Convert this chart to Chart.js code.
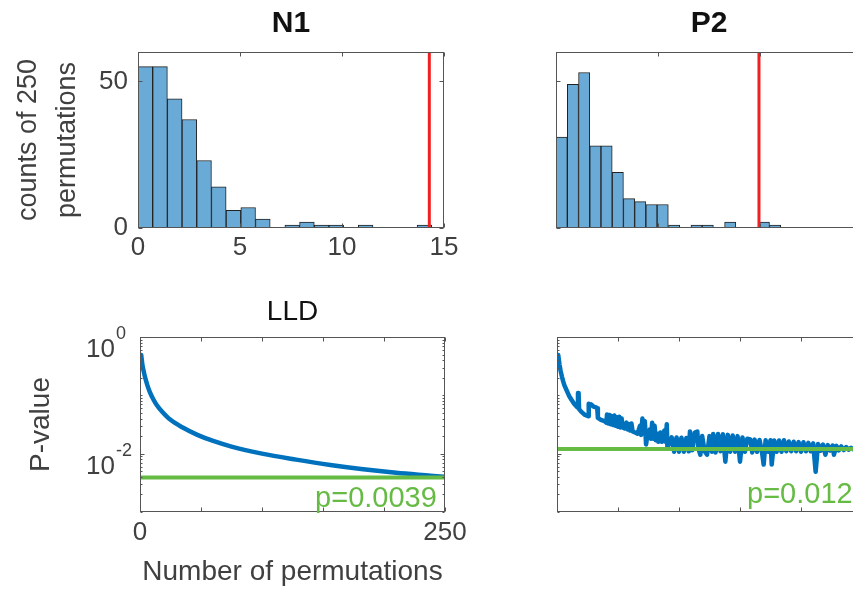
<!DOCTYPE html>
<html lang="en">
<head>
  <meta charset="UTF-8">
  <title>Permutation tests – N1 / P2</title>
  <script src="https://cdn.jsdelivr.net/npm/chart.js"></script>
  <style>
    html, body { margin: 0; padding: 0; background: #fff; overflow: hidden; }
    body { width: 853px; height: 592px; position: relative; }
    canvas { position: absolute; }
  </style>
</head>
<body>
  <canvas id="n1Hist" width="470" height="300" style="left:0;top:0"></canvas>
  <canvas id="p2Hist" width="470" height="300" style="left:418px;top:0"></canvas>
  <canvas id="n1Lld" width="475" height="307" style="left:0;top:285px"></canvas>
  <canvas id="p2Lld" width="475" height="307" style="left:417px;top:285px"></canvas>

  <script>
    // histogram bins (centres) and counts of 250 permutations
    const n1BinCenters = [0.36, 1.08, 1.80, 2.52, 3.24, 3.96, 4.68, 5.40, 6.12, 6.84,
                          7.56, 8.28, 9.00, 9.72, 10.44, 11.16, 11.88, 12.60, 13.32, 14.04];
    const n1Counts = [55, 55, 44, 37, 23, 14, 6, 7, 3, 0, 1, 2, 1, 1, 0, 1, 0, 0, 0, 1];
    const n1Observed = 14.28;

    const p2BinCenters = [0.28, 0.83, 1.38, 1.93, 2.48, 3.03, 3.58, 4.13, 4.68, 5.23,
                          5.79, 6.34, 6.89, 7.44, 7.99, 8.54, 9.09, 9.64, 10.19, 10.74];
    const p2Counts = [31, 49, 53, 28, 28, 19, 10, 9, 8, 8, 1, 0, 1, 1, 0, 2, 0, 0, 2, 1];
    const p2Observed = 9.95;

    const histXTicks = [0, 5, 10, 15];
    const histYTicks = [0, 50];

    // p-value vs number of permutations
    const n1PermN = [1, 2, 3, 4, 6, 8, 11, 14, 18, 25, 35, 47, 60, 75, 100, 128, 156, 183, 210, 238, 250];
    const n1PermP = [0.49, 0.33, 0.26, 0.21, 0.15, 0.115, 0.085, 0.067, 0.053, 0.038, 0.028, 0.021,
                     0.0165, 0.0132, 0.0100, 0.0079, 0.0064, 0.0054, 0.0047, 0.0042, 0.0040];
    const n1FinalP = 0.0039;

    // [permutations, p]
    const p2PermCurve = [
      [1, 0.49], [2, 0.34], [3, 0.26], [4, 0.21], [5, 0.175], [6, 0.15], [8, 0.12], [10, 0.097],
      [12, 0.083], [14, 0.072], [16.8, 0.062], [17.2, 0.11], [17.7, 0.11], [18.1, 0.058], [20, 0.052],
      [23, 0.046], [25.5, 0.044], [26, 0.072], [27, 0.066], [28, 0.070], [30, 0.064], [32, 0.062],
      [33, 0.060], [33.5, 0.041], [36, 0.038], [39, 0.036], [40.5, 0.034],
      [41, 0.047], [42, 0.033], [43, 0.046], [44, 0.032], [45, 0.044], [46, 0.031], [47, 0.045],
      [48, 0.030], [49, 0.042], [50, 0.029], [51, 0.043], [52, 0.028], [53, 0.040], [54, 0.028],
      [55.5, 0.027], [57, 0.034], [58, 0.026], [59, 0.032], [60, 0.025], [61, 0.033], [62, 0.024],
      [64, 0.023], [66, 0.022], [68, 0.030], [69, 0.021], [70, 0.040], [71, 0.030], [72, 0.036],
      [73, 0.0144], [74, 0.020], [75, 0.019], [76, 0.026], [77, 0.018], [78, 0.034], [79, 0.018],
      [80, 0.030], [81, 0.017], [82, 0.022], [83, 0.016], [84.7, 0.023], [86, 0.016], [88, 0.025],
      [89, 0.016], [90, 0.032], [90.5, 0.0125], [92, 0.015], [94, 0.019],
      [96, 0.0108], [98, 0.019], [100, 0.0108], [102, 0.0188], [104, 0.0108], [106, 0.0185],
      [108, 0.011], [109, 0.024], [111, 0.0115], [113, 0.023], [115, 0.024], [116, 0.012],
      [117.5, 0.0096], [119, 0.020], [121, 0.011], [123, 0.0096], [125, 0.020], [127, 0.0108],
      [128, 0.0217], [130, 0.0105], [132, 0.0217], [134, 0.011], [136, 0.0215], [138, 0.0073],
      [140, 0.021], [142, 0.0108], [144, 0.0205], [146, 0.0108], [148, 0.020], [150, 0.0073],
      [152, 0.019], [154, 0.0108], [156, 0.018], [158.5, 0.0175], [160, 0.0105], [162, 0.0174],
      [164, 0.0108], [166, 0.0172], [168, 0.0108], [169.4, 0.0065], [171, 0.017], [173, 0.0108],
      [175, 0.017], [176, 0.0065], [178, 0.0168], [180, 0.0108], [182, 0.0168], [184, 0.0108],
      [186, 0.017], [188, 0.011], [190, 0.0162], [192, 0.011], [194, 0.016], [196, 0.011],
      [198, 0.0158], [200, 0.0108], [202, 0.0157], [204, 0.011], [206, 0.0153], [208, 0.011],
      [210, 0.015], [212, 0.0049], [214, 0.0147], [216, 0.0112], [218, 0.0143], [220, 0.0096],
      [222, 0.014], [224, 0.0113], [226, 0.0138], [227, 0.0096], [229, 0.0136], [231, 0.0114],
      [233, 0.0133], [235, 0.0115], [237, 0.013], [239, 0.0117], [241, 0.0126], [243, 0.0118],
      [245, 0.0123], [247, 0.0119], [250, 0.012]
    ];
    const p2FinalP = 0.012;

    const permXTicks = [0, 50, 100, 150, 200, 250];
    const permXLabels = ['0', '', '', '', '', '250'];
    const pMajorTicks = [0.01, 1];

    const FONT = '"Liberation Sans", Arial, Helvetica, sans-serif';
    const TXT = '#404040';
    const BLUE = '#0072bd';
    const GREEN = '#66bb44';
    const RED = '#f02020';

    Chart.defaults.font.family = FONT;
    Chart.defaults.color = TXT;

    // matlab-ish box with inward ticks on all four sides, plus extra text
    const matlabAxes = {
      id: 'matlabAxes',
      afterDraw(chart, args, opts) {
        const ctx = chart.ctx;
        const a = chart.chartArea;
        const x = chart.scales.x, y = chart.scales.y;
        const L = Math.round(a.left) + 0.5, R = Math.round(a.right) - 0.5;
        const T = Math.round(a.top) + 0.5, B = Math.round(a.bottom) - 0.5;
        ctx.save();
        ctx.strokeStyle = '#555';
        ctx.lineWidth = 1;
        ctx.strokeRect(L, T, R - L, B - T);
        ctx.beginPath();
        (opts.xTicks || []).forEach(v => {
          const px = Math.round(x.getPixelForValue(v)) + 0.5;
          ctx.moveTo(px, B); ctx.lineTo(px, B - 4);
          ctx.moveTo(px, T); ctx.lineTo(px, T + 4);
        });
        (opts.yTicks || []).forEach(v => {
          const py = Math.round(y.getPixelForValue(v)) + 0.5;
          ctx.moveTo(L, py); ctx.lineTo(L + 4, py);
          ctx.moveTo(R, py); ctx.lineTo(R - 4, py);
        });
        if (opts.logMinor) {
          for (let d = 0.001; d < 1; d *= 10) {
            for (let k = 1; k < 10; k++) {
              const py = Math.round(y.getPixelForValue(d * k)) + 0.5;
              ctx.moveTo(L, py); ctx.lineTo(L + 2, py);
              ctx.moveTo(R, py); ctx.lineTo(R - 2, py);
            }
          }
        }
        ctx.stroke();

        // 10^k labels
        (opts.powLabels || []).forEach(p => {
          const py = y.getPixelForValue(p.value);
          ctx.fillStyle = TXT;
          ctx.textBaseline = 'middle';
          ctx.font = '26px ' + FONT;
          ctx.textAlign = 'right';
          ctx.fillText('10', a.left - 25, py + 13);
          ctx.font = '18px ' + FONT;
          ctx.textAlign = 'left';
          ctx.fillText(p.exp, a.left - 24, py - 3);
        });

        if (opts.note) {
          ctx.fillStyle = GREEN;
          ctx.font = '29px ' + FONT;
          ctx.textAlign = 'left';
          ctx.textBaseline = 'alphabetic';
          ctx.fillText(opts.note.text, a.left + opts.note.frac * a.width, a.bottom - opts.note.lift);
        }
        ctx.restore();
      }
    };

    function histChart(id, title, centers, counts, observed, withLabels) {
      return new Chart(document.getElementById(id), {
        data: {
          datasets: [
            {
              type: 'line',
              data: [{ x: observed, y: 0 }, { x: observed, y: 60 }],
              borderColor: RED,
              borderWidth: 3,
              pointRadius: 0
            },
            {
              type: 'bar',
              data: centers.map((c, i) => ({ x: c, y: counts[i] })),
              backgroundColor: '#6aaad6',
              borderColor: '#222',
              borderWidth: 1,
              borderSkipped: false,
              barPercentage: 1,
              categoryPercentage: 1
            }
          ]
        },
        options: {
          responsive: false,
          animation: false,
          devicePixelRatio: 1,
          layout: { padding: { right: 26 } },
          plugins: {
            legend: { display: false },
            tooltip: { enabled: false },
            title: {
              display: true, text: title, fullSize: false, color: '#111',
              font: { size: 30, weight: 'bold' }, padding: { top: 6, bottom: 10 }
            },
            matlabAxes: { xTicks: histXTicks, yTicks: histYTicks }
          },
          scales: {
            x: {
              type: 'linear', min: 0, max: 15, offset: false,
              grid: { display: false, drawTicks: false, offset: false },
              border: { display: false },
              afterBuildTicks: s => { s.ticks = histXTicks.map(v => ({ value: v })); },
              ticks: { display: withLabels, font: { size: 26 }, padding: 4, color: TXT },
              afterFit: s => { s.height = 72; }
            },
            y: {
              type: 'linear', min: 0, max: 60,
              grid: { display: false, drawTicks: false },
              border: { display: false },
              afterBuildTicks: s => { s.ticks = histYTicks.map(v => ({ value: v })); },
              ticks: { display: withLabels, font: { size: 26 }, padding: 10, color: TXT },
              title: {
                display: withLabels, text: ['counts of 250', 'permutations'], color: TXT,
                font: { size: 27, lineHeight: 1.45 }, padding: { top: 9 }
              },
              afterFit: s => { s.width = 138; }
            }
          }
        },
        plugins: [matlabAxes]
      });
    }

    function permChart(id, title, points, finalP, note, withLabels) {
      return new Chart(document.getElementById(id), {
        type: 'line',
        data: {
          datasets: [
            {
              data: [{ x: 0, y: finalP }, { x: 250, y: finalP }],
              borderColor: GREEN,
              borderWidth: 4,
              pointRadius: 0
            },
            {
              data: points.map(([n, p]) => ({ x: n, y: p })),
              borderColor: BLUE,
              borderWidth: 4.5,
              borderJoinStyle: 'round',
              borderCapStyle: 'round',
              pointRadius: 0,
              cubicInterpolationMode: withLabels ? 'monotone' : 'default',
              tension: 0
            }
          ]
        },
        options: {
          responsive: false,
          animation: false,
          devicePixelRatio: 1,
          layout: { padding: { right: 30, top: title ? 0 : 52 } },
          plugins: {
            legend: { display: false },
            tooltip: { enabled: false },
            title: {
              display: !!title, text: title, fullSize: false, color: '#111',
              font: { size: 28, weight: 'normal' }, padding: { top: 10, bottom: 8.4 }
            },
            matlabAxes: {
              xTicks: permXTicks, yTicks: pMajorTicks, logMinor: true,
              powLabels: withLabels ? [{ value: 1, exp: '0' }, { value: 0.01, exp: '-2' }] : [],
              note: note
            }
          },
          scales: {
            x: {
              type: 'linear', min: 0, max: 250,
              grid: { display: false, drawTicks: false },
              border: { display: false },
              afterBuildTicks: s => { s.ticks = permXTicks.map(v => ({ value: v })); },
              ticks: {
                display: withLabels, font: { size: 26 }, padding: 5, color: TXT,
                callback: (v, i) => permXLabels[i]
              },
              title: {
                display: withLabels, text: 'Number of permutations', color: TXT,
                font: { size: 28 }, padding: { top: 0, bottom: 3 }
              },
              afterFit: s => { s.height = 80; }
            },
            y: {
              type: 'logarithmic', min: 0.001, max: 1,
              grid: { display: false, drawTicks: false },
              border: { display: false },
              ticks: { display: false },
              title: {
                display: withLabels, text: 'P-value', color: TXT,
                font: { size: 28 }, padding: { top: 24 }
              },
              afterFit: s => { s.width = 140; }
            }
          }
        },
        plugins: [matlabAxes]
      });
    }

    histChart('n1Hist', 'N1', n1BinCenters, n1Counts, n1Observed, true);
    histChart('p2Hist', 'P2', p2BinCenters, p2Counts, p2Observed, false);
    permChart('n1Lld', 'LLD', n1PermN.map((n, i) => [n, n1PermP[i]]), n1FinalP,
              { text: 'p=0.0039', frac: 0.574, lift: 5 }, true);
    permChart('p2Lld', '', p2PermCurve, p2FinalP, { text: 'p=0.0120', frac: 0.623, lift: 9 }, false);
  </script>
</body>
</html>
